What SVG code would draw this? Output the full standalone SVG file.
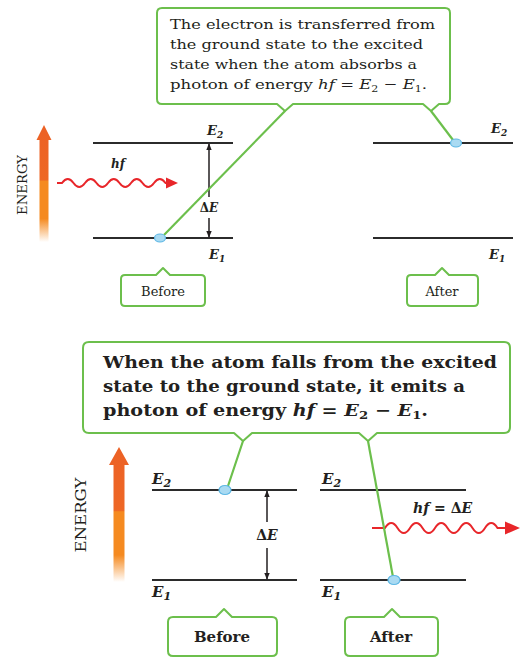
<svg xmlns="http://www.w3.org/2000/svg" width="520" height="659" viewBox="0 0 520 659">
<style>
.co{fill:#fff;stroke:#6cbf4c;stroke-width:2;stroke-linejoin:round}
.gl{stroke:#6cbf4c;stroke-width:2.2;fill:none}
.lv{stroke:#2b2b2b;stroke-width:1.8}
.dot{fill:#a9daf2;stroke:#5db7e4;stroke-width:1.2}
.t{font-family:"DejaVu Serif","Liberation Serif",serif;fill:#231f20}
.i{font-style:italic}
.b{font-weight:bold}
.wave{fill:none;stroke:#e8262a;stroke-width:2}
.va{stroke:#231f20;stroke-width:1.5;fill:none}
</style>
<defs>
<marker id="ah" viewBox="0 0 10 10" refX="9" refY="5" markerWidth="7" markerHeight="7" orient="auto-start-reverse" markerUnits="userSpaceOnUse">
<path d="M0,1 L10,5 L0,9 Z" fill="#231f20"/>
</marker>
<linearGradient id="og1" x1="0" y1="0" x2="0" y2="1">
<stop offset="0" stop-color="#ec6125"/>
<stop offset="0.47" stop-color="#ee6725"/>
<stop offset="0.48" stop-color="#f58a20"/>
<stop offset="0.8" stop-color="#f58a20"/>
<stop offset="1" stop-color="#f58a20" stop-opacity="0"/>
</linearGradient>
</defs>

<!-- TOP SECTION -->
<g id="energy-axis-top">
<path d="M44,125 L51.5,140 L48.5,140 L48.5,242 L39.5,242 L39.5,140 L36.5,140 Z" fill="url(#og1)"/>
<text class="t" transform="translate(27,185) rotate(-90)" text-anchor="middle" font-size="12" textLength="60" lengthAdjust="spacingAndGlyphs">ENERGY</text>
</g>

<g id="levels-before-top">
<line class="lv" x1="93" y1="143" x2="233" y2="143"/>
<line class="lv" x1="93" y1="238" x2="233" y2="238"/>
<text class="t i b" x="207" y="135" font-size="13">E<tspan font-size="9" dy="3">2</tspan></text>
<text class="t i b" x="209" y="259" font-size="13">E<tspan font-size="9" dy="3">1</tspan></text>
</g>

<g id="levels-after-top">
<line class="lv" x1="373" y1="143" x2="513" y2="143"/>
<line class="lv" x1="373" y1="238" x2="513" y2="238"/>
<text class="t i b" x="491" y="133" font-size="13">E<tspan font-size="9" dy="3">2</tspan></text>
<text class="t i b" x="489" y="259" font-size="13">E<tspan font-size="9" dy="3">1</tspan></text>
</g>

<g id="photon-in">
<path class="wave" d="M57,183 L62,183 q5.75,-8 11.5,0 t11.5,0 t11.5,0 t11.5,0 t11.5,0 t11.5,0 t11.5,0 t11.5,0 t11.5,0 L170,183"/>
<path d="M166,177.5 L178,183 L166,188.5 Z" fill="#e8262a"/>
<text class="t i b" x="118" y="168" font-size="12" text-anchor="middle">hf</text>
</g>

<g id="delta-top">
<line class="va" x1="209" y1="197" x2="209" y2="144" marker-end="url(#ah)"/>
<line class="va" x1="209" y1="218" x2="209" y2="237" marker-end="url(#ah)"/>
<text class="t b" x="209" y="212" font-size="12" text-anchor="middle">Δ<tspan class="i">E</tspan></text>
</g>

<g id="callout-top">
<path class="co" d="M162,8 H445 Q450,8 450,13 V99 Q450,104 445,104 H439 L431,111 L423,104 H293 L285,111 L277,104 H162 Q157,104 157,99 V13 Q157,8 162,8 Z"/>
<text class="t" font-size="13.5">
<tspan x="170" y="29" textLength="265" lengthAdjust="spacingAndGlyphs">The electron is transferred from</tspan>
<tspan x="170" y="49" textLength="253" lengthAdjust="spacingAndGlyphs">the ground state to the excited</tspan>
<tspan x="170" y="69" textLength="247" lengthAdjust="spacingAndGlyphs">state when the atom absorbs a</tspan>
</text>
<text class="t" x="170" y="89" font-size="13.5" textLength="257" lengthAdjust="spacingAndGlyphs">photon of energy <tspan class="i">hf</tspan> = <tspan class="i">E</tspan><tspan font-size="9" dy="3">2</tspan><tspan dy="-3"> − </tspan><tspan class="i">E</tspan><tspan font-size="9" dy="3">1</tspan><tspan dy="-3">.</tspan></text>
</g>

<g id="before-top">
<path class="co" d="M125,275 H156 L163,268 L170,275 H201 Q205,275 205,279 V302 Q205,306 201,306 H125 Q121,306 121,302 V279 Q121,275 125,275 Z"/>
<text class="t" x="163" y="296" font-size="13" text-anchor="middle">Before</text>
</g>

<g id="after-top">
<path class="co" d="M411,275 H435 L442,268 L449,275 H474 Q478,275 478,279 V302 Q478,306 474,306 H411 Q407,306 407,302 V279 Q407,275 411,275 Z"/>
<text class="t" x="442" y="296" font-size="13" text-anchor="middle">After</text>
</g>

<!-- BOTTOM SECTION -->
<g id="energy-axis-bottom">
<path d="M119,447 L129,465 L124.5,465 L124.5,582 L113.5,582 L113.5,465 L109,465 Z" fill="url(#og1)"/>
<text class="t" transform="translate(86,515) rotate(-90)" text-anchor="middle" font-size="15" textLength="75" lengthAdjust="spacingAndGlyphs">ENERGY</text>
</g>

<g id="levels-before-bottom">
<line class="lv" x1="152" y1="490" x2="297" y2="490"/>
<line class="lv" x1="152" y1="580" x2="297" y2="580"/>
<text class="t i b" x="152" y="484" font-size="15">E<tspan font-size="11" dy="3">2</tspan></text>
<text class="t i b" x="152" y="597" font-size="15">E<tspan font-size="11" dy="3">1</tspan></text>
</g>

<g id="levels-after-bottom">
<line class="lv" x1="320" y1="490" x2="466" y2="490"/>
<line class="lv" x1="320" y1="580" x2="466" y2="580"/>
<text class="t i b" x="322" y="484" font-size="15">E<tspan font-size="11" dy="3">2</tspan></text>
<text class="t i b" x="322" y="597" font-size="15">E<tspan font-size="11" dy="3">1</tspan></text>
</g>

<g id="delta-bottom">
<line class="va" x1="267" y1="522" x2="267" y2="491" marker-end="url(#ah)"/>
<line class="va" x1="267" y1="548" x2="267" y2="579" marker-end="url(#ah)"/>
<text class="t b" x="267" y="540" font-size="14" text-anchor="middle">Δ<tspan class="i">E</tspan></text>
</g>

<g id="photon-out">
<path class="wave" d="M372,528 L385,528 q6.25,-10 12.5,0 t12.5,0 t12.5,0 t12.5,0 t12.5,0 t12.5,0 t12.5,0 t12.5,0 t12.5,0 L507,528"/>
<path d="M505,521.5 L520,528 L505,534.5 Z" fill="#e8262a"/>
<text class="t b" x="413" y="513" font-size="14"><tspan class="i">hf</tspan> = Δ<tspan class="i">E</tspan></text>
</g>

<g id="callout-bottom">
<path class="co" d="M89,342 H504 Q510,342 510,348 V427 Q510,433 504,433 H377 L368,441 L359,433 H252 L243,441 L234,433 H89 Q83,433 83,427 V348 Q83,342 89,342 Z"/>
<text class="t b" font-size="16">
<tspan x="103" y="368" textLength="394" lengthAdjust="spacingAndGlyphs">When the atom falls from the excited</tspan>
<tspan x="103" y="392" textLength="362" lengthAdjust="spacingAndGlyphs">state to the ground state, it emits a</tspan>
</text>
<text class="t b" x="103" y="416" font-size="16" textLength="325" lengthAdjust="spacingAndGlyphs">photon of energy <tspan class="i">hf</tspan> = <tspan class="i">E</tspan><tspan font-size="11" dy="3">2</tspan><tspan dy="-3"> − </tspan><tspan class="i">E</tspan><tspan font-size="11" dy="3">1</tspan><tspan dy="-3">.</tspan></text>
</g>

<g id="before-bottom">
<path class="co" d="M173,617 H216 L224,609 L232,617 H272 Q277,617 277,622 V651 Q277,656 272,656 H173 Q168,656 168,651 V622 Q168,617 173,617 Z"/>
<text class="t b" x="222" y="642" font-size="15" text-anchor="middle">Before</text>
</g>

<g id="after-bottom">
<path class="co" d="M350,617 H384 L392,609 L400,617 H433 Q438,617 438,622 V651 Q438,656 433,656 H350 Q345,656 345,651 V622 Q345,617 350,617 Z"/>
<text class="t b" x="391" y="642" font-size="15" text-anchor="middle">After</text>
</g>

<g id="connectors">
<line class="gl" x1="285" y1="111" x2="164" y2="235"/>
<line class="gl" x1="431" y1="111" x2="453" y2="140"/>
<line class="gl" x1="243" y1="441" x2="228" y2="486"/>
<line class="gl" x1="368" y1="441" x2="393" y2="577"/>
</g>

<g id="electrons">
<ellipse class="dot" cx="160" cy="238" rx="5.5" ry="4"/>
<ellipse class="dot" cx="456" cy="143" rx="5.5" ry="4"/>
<ellipse class="dot" cx="225" cy="490" rx="6" ry="4.5"/>
<ellipse class="dot" cx="394" cy="580" rx="6" ry="4.5"/>
</g>
</svg>
